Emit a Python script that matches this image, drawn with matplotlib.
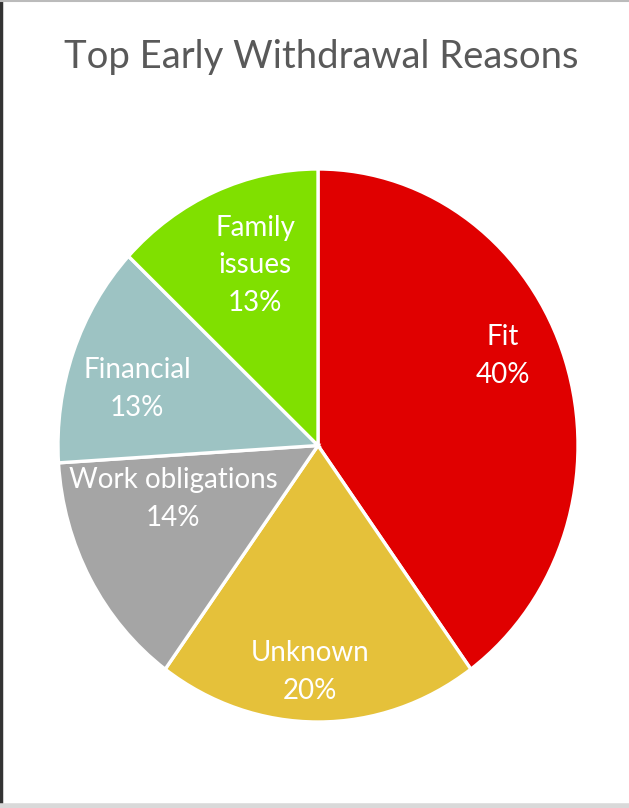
import matplotlib
matplotlib.use("Agg")
import matplotlib.pyplot as plt
import numpy as np

reasons = ["Fit", "Unknown", "Work obligations", "Financial", "Family\nissues"]
shares = [40, 20, 14, 13, 13]
colors = ["#e00000", "#e5c13a", "#a5a5a5", "#9dc3c3", "#80e000"]
# label placement: fraction of the radius and a small angular nudge (degrees)
label_r = [0.78, 0.82, 0.59, 0.725, 0.695]
label_shift = [6.5, -2.2, -9.7, 3.5, -3.0]

plt.rcParams["font.family"] = ["Lato", "DejaVu Sans"]

fig = plt.figure(figsize=(6.29, 8.08), dpi=100)
ax = fig.add_axes([58 / 629, 86 / 808, 520 / 629, 553 / 808])

wedges, _ = ax.pie(shares, colors=colors, startangle=90, counterclock=False,
                   wedgeprops=dict(edgecolor="white", linewidth=2.4))

for w, name, val, r, sh in zip(wedges, reasons, shares, label_r, label_shift):
    mid = np.deg2rad((w.theta1 + w.theta2) / 2 + sh)
    ax.text(r * np.cos(mid), r * np.sin(mid), f"{name}\n{val}%",
            ha="center", va="center", color="white", fontsize=20,
            linespacing=1.55)

ax.set_xlim(-1, 1)
ax.set_ylim(-1, 1)
ax.set_aspect("auto")

fig.text(0.510, 0.929, "Top Early Withdrawal Reasons", ha="center", va="center",
         fontsize=27.5, color="#595959")

# frame lines around the chart area
fig.add_artist(plt.Line2D([0.002, 0.002], [0, 1], color="#333333", lw=2.5))
fig.add_artist(plt.Line2D([0, 1], [0.999, 0.999], color="#bbbbbb", lw=1.5))
fig.add_artist(plt.Line2D([0, 1], [0.003, 0.003], color="#d9d9d9", lw=4))

fig.savefig("out.png", dpi=100)
